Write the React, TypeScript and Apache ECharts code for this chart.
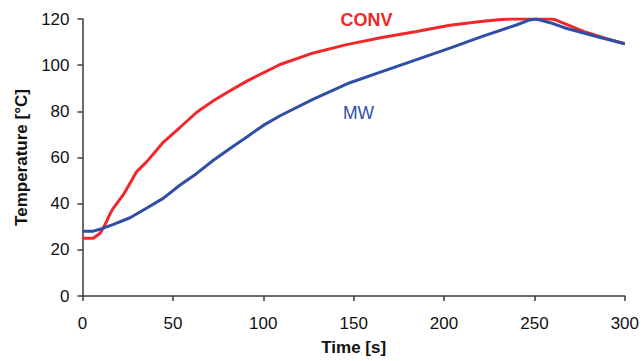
import React, { useEffect, useRef } from "react";
import * as echarts from "echarts";

const convTime = [0, 6, 9.7, 11.5, 13.4, 15.5, 17.1, 22.6, 30, 35.6, 44.8, 54, 63.2, 72.4, 81.6, 90.9, 100, 109.3, 127.7, 146.1, 166.4, 184.8, 203.2, 221.6, 230, 236, 258.7, 261, 277.2, 290, 300];
const convTemp = [25, 25, 27.2, 29.5, 32.4, 36, 38.1, 43.9, 53.9, 58.2, 66.7, 73.1, 79.6, 84.6, 88.9, 93.1, 96.7, 100.3, 105.3, 108.9, 112.1, 114.6, 117.3, 119, 119.7, 120, 120, 119.8, 114.6, 111.5, 109.3];

const mwTime = [0, 6, 10, 17.1, 26.3, 35.6, 44.8, 54, 63.2, 72.4, 81.6, 90.9, 100, 109.3, 127.7, 147.9, 166.4, 184.8, 203.2, 221.6, 240, 247.4, 251, 258.7, 267.5, 285.9, 300];
const mwTemp = [28.1, 28.1, 29, 31, 33.9, 38.1, 42.4, 48.1, 53.1, 58.8, 63.9, 68.9, 73.9, 78.1, 85.3, 92.4, 97.4, 102.4, 107.4, 112.6, 117.4, 119.6, 120, 118.4, 116, 112.1, 109.3];

const xTicks = [0, 50, 100, 150, 200, 250, 300];
const yTicks = [0, 20, 40, 60, 80, 100, 120];

const RED = "#f0282a";
const BLUE = "#2f4fa6";

export default function App() {
  const ref = useRef<HTMLDivElement>(null);
  useEffect(() => {
    if (!ref.current) return;
    const chart = echarts.init(ref.current, null, { renderer: "svg" });
    const font = "'Liberation Sans', Arial, sans-serif";
    const axisColor = "#3a3a3a";
    chart.setOption({
      animation: false,
      backgroundColor: "#ffffff",
      grid: { left: 82.5, right: 16, top: 19, bottom: 58, containLabel: false },
      xAxis: {
        type: "value",
        min: xTicks[0],
        max: xTicks[xTicks.length - 1],
        interval: 50,
        name: "Time [s]",
        nameLocation: "middle",
        nameGap: 43,
        nameTextStyle: { fontFamily: font, fontSize: 17, fontWeight: "bold", color: "#111" },
        axisLine: { show: true, lineStyle: { color: axisColor, width: 1.5 } },
        axisTick: { show: true, inside: false, length: 5, lineStyle: { color: axisColor, width: 1.5 } },
        axisLabel: { fontFamily: font, fontSize: 17, color: "#111", margin: 19 },
        splitLine: { show: false },
      },
      yAxis: {
        type: "value",
        min: yTicks[0],
        max: yTicks[yTicks.length - 1],
        interval: 20,
        name: "Temperature [°C]",
        nameLocation: "middle",
        nameGap: 52,
        nameTextStyle: { fontFamily: font, fontSize: 17, fontWeight: "bold", color: "#111" },
        axisLine: { show: true, lineStyle: { color: axisColor, width: 1.5 } },
        axisTick: { show: true, inside: false, length: 5, lineStyle: { color: axisColor, width: 1.5 } },
        axisLabel: { fontFamily: font, fontSize: 17, color: "#111", margin: 13 },
        splitLine: { show: false },
      },
      series: [
        {
          name: "CONV",
          type: "line",
          showSymbol: false,
          symbol: "none",
          data: convTime.map((t, i) => [t, convTemp[i]]),
          lineStyle: { color: RED, width: 3 },
          itemStyle: { color: RED },
          z: 2,
        },
        {
          name: "MW",
          type: "line",
          showSymbol: false,
          symbol: "none",
          data: mwTime.map((t, i) => [t, mwTemp[i]]),
          lineStyle: { color: BLUE, width: 3 },
          itemStyle: { color: BLUE },
          z: 3,
        },
      ],
      graphic: [
        {
          type: "text",
          x: 340.5,
          y: 20,
          style: { text: "CONV", fontFamily: font, fontSize: 18, fontWeight: "bold", fill: RED, textAlign: "left", textVerticalAlign: "middle" },
        },
        {
          type: "text",
          x: 343,
          y: 113,
          style: { text: "MW", fontFamily: font, fontSize: 17.5, fill: BLUE, textAlign: "left", textVerticalAlign: "middle" },
        },
      ],
    });
    return () => chart.dispose();
  }, []);
  return (
    <div
      ref={ref}
      style={{ position: "fixed", left: 0, top: 0, width: 642, height: 361, background: "#fff" }}
    />
  );
}
